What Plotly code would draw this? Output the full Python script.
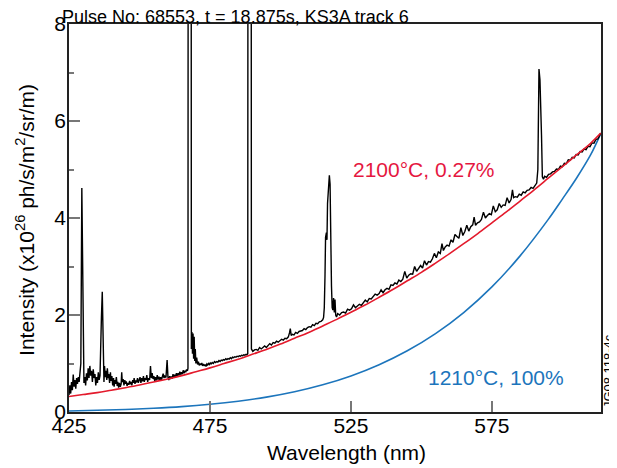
import plotly.graph_objects as go

# ---------------- data ----------------
title_text = "Pulse No: 68553, t = 18.875s, KS3A track 6"
x_ticks = [425, 475, 525, 575]
y_ticks = [0, 2, 4, 6, 8]

# measured spectrum, segment by segment: (wavelength nm, intensity 1e26)
spec_a = [(425.0,0.35),(425.3,0.55),(425.6,0.38),(425.9,0.62),(426.2,0.45),(426.5,0.77),(426.8,0.52),(427.1,0.66),(427.4,0.48),(427.7,0.70),(428.0,0.58),(428.3,0.72),(428.6,0.62),(428.9,0.80),
          (429.2,1.00),(429.55,4.62),(429.85,2.35),(430.05,2.15),(430.3,0.60),
          (430.6,0.72),(430.9,0.55),(431.2,0.80),(431.5,0.65),(431.8,0.90),(432.1,0.70),(432.4,0.95),(432.7,0.75),(433.0,0.85),(433.3,0.62),(433.6,0.88),(433.9,0.70),(434.2,0.78),(434.5,0.55),(434.8,0.72),(435.1,0.60),(435.4,0.82),(435.7,0.66),(436.0,0.75),
          (436.3,1.75),(436.5,1.95),(436.8,2.48),(437.15,0.85),
          (437.4,0.62),(437.6,0.95),(437.9,0.72),(438.1,0.85),(438.4,0.66),(438.6,0.90),(438.9,0.70),(439.1,0.78),(439.4,0.60),(439.7,0.82),(439.9,0.64),(440.2,0.74),(440.5,0.55),(440.8,0.70),(441.0,0.52),(441.3,0.66),(441.5,0.58),(441.8,0.72),(442.1,0.54),(442.3,0.62),(442.6,0.50),(442.9,0.60),(443.2,0.52),(443.5,0.58),(443.7,0.82),(443.9,0.62),(444.2,0.68),(444.5,0.55),(444.8,0.66),(445.0,0.58),(445.3,0.63),(445.6,0.54),(445.9,0.60),(446.2,0.56),(446.5,0.64),(446.8,0.57),(447.0,0.62),(447.3,0.55),(447.6,0.66),(447.9,0.60),(448.1,0.70),(448.4,0.58),(448.7,0.65),(449.0,0.61),(449.3,0.70),(449.6,0.60),(449.9,0.66),(450.2,0.72),(450.5,0.60),(450.8,0.70),(451.1,0.63),(451.4,0.74),(451.7,0.62),(452.0,0.70),(452.3,0.66),(452.6,0.76),(452.9,0.62),(453.2,0.70),
          (453.6,0.66),(453.9,0.95),(454.2,0.70),(454.5,0.80),(454.8,0.68),(455.1,0.74),(455.4,0.64),(455.7,0.72),(456.0,0.65),(456.3,0.76),(456.6,0.67),(456.9,0.73),(457.2,0.65),(457.5,0.72),(457.8,0.66),(458.1,0.73),(458.4,0.79),(458.7,0.70),(459.0,0.74),(459.4,0.71),(459.8,1.07),(460.1,0.72),(460.4,0.66),(460.7,0.74),(461.0,0.68),(461.3,0.73),(461.6,0.69),(461.9,0.78),(462.2,0.71),(462.5,0.77),(462.8,0.72),(463.1,0.80),(463.4,0.74),(463.7,0.80),(464.0,0.75),(464.3,0.83),(464.6,0.77),(464.9,0.82),(465.2,0.78),(465.5,0.86),(465.8,0.80),(466.1,0.85),(466.4,0.82),(466.7,0.88),(467.0,0.85)]
spec_b = [(467.2,0.90),(467.45,40.0),(468.15,40.0),(468.4,1.30),(468.6,1.65),(468.8,1.20),(469.0,1.62),(469.2,1.10),(469.4,1.55),(469.6,1.05),(469.8,1.30),
          (470.0,1.00),(470.3,1.12),(470.6,0.98),(470.9,1.04),(471.2,0.96),(471.5,1.00),(471.8,0.97),(472.1,1.01),(472.4,0.95),(472.7,0.99),(473.0,0.96),(473.3,0.97),(473.6,0.94),(473.9,0.99),(474.2,0.97),(474.5,1.00),(474.8,0.98),(475.1,1.01),(475.4,0.99),(475.8,1.02),(476.2,1.00),(476.6,1.04),(477.0,1.02),(477.4,1.04),(477.8,1.03),(478.2,1.06),(478.6,1.04),(479.0,1.07),(479.4,1.06),(479.8,1.08),(480.2,1.07),(480.6,1.10),(481.0,1.08),(481.4,1.10),(481.8,1.09),(482.2,1.12),(482.6,1.10),(483.0,1.13),(483.4,1.12),(483.8,1.14),(484.2,1.13),(484.6,1.15),(485.0,1.14),(485.4,1.16),(485.8,1.15),(486.2,1.17),(486.6,1.16),(487.0,1.18),(487.4,1.17),(487.8,1.19),(488.1,1.18)]
spec_c = [(488.4,1.20),(488.7,40.0),(489.4,40.0),(489.7,1.30),(490.2,1.25),(490.8,1.28),(491.4,1.29),(492.0,1.27),(492.6,1.33),(493.2,1.30),(493.8,1.33),(494.4,1.36),(495.0,1.33),(495.6,1.38),(496.2,1.41),(496.8,1.38),(497.4,1.43),(498.0,1.42),(498.6,1.46),(499.2,1.44),(499.8,1.47),(500.4,1.50),(501.0,1.48),(501.6,1.52),(502.2,1.51),(502.8,1.55),(503.2,1.63),(503.5,1.72),(503.8,1.58),(504.2,1.60),(504.8,1.59),(505.4,1.64),(506.0,1.62),(506.6,1.66),(507.2,1.67),(507.8,1.68),(508.4,1.72),(509.0,1.70),(509.6,1.74),(510.2,1.76),(510.8,1.75),(511.4,1.80),(512.0,1.78),(512.6,1.83),(513.2,1.82),(513.8,1.86),(514.4,1.87),(515.0,1.90)]
spec_d = [(515.3,1.95),(515.55,2.15),(515.8,2.80),(516.0,3.60),(516.3,3.70),(516.5,3.55),(516.7,4.30),(517.1,4.60),(517.35,4.88),(517.6,4.70),(517.85,3.30),(518.1,2.60),(518.35,2.15),(518.6,2.10),(518.85,2.35),(519.1,2.05),(519.35,2.32),(519.6,2.00),(519.9,1.96)]
spec_e = [(520.3,2.03),(521.0,2.00),(521.7,2.05),(522.4,2.06),(523.1,2.04),(523.8,2.12),(524.5,2.10),(525.2,2.13),(525.9,2.21),(526.6,2.15),(527.3,2.19),(528.0,2.22),(528.7,2.20),(529.4,2.27),(530.1,2.31),(530.8,2.27),(531.5,2.34),(532.2,2.33),(532.9,2.38),(533.6,2.43),(534.3,2.41),(535.0,2.44),(535.7,2.52),(536.4,2.46),(537.1,2.52),(537.8,2.55),(538.5,2.53),(539.2,2.62),(539.9,2.61),(540.6,2.66),(541.3,2.64),(542.0,2.72),(542.7,2.69),(543.4,2.74),(544.1,2.90),(544.8,2.76),(545.5,2.82),(546.2,2.85),(546.9,2.84),(547.6,3.00),(548.3,2.90),(549.0,2.95),(549.7,3.02),(550.4,2.97),(551.1,3.12),(551.8,3.03),(552.5,3.10),(553.2,3.09),(553.9,3.16),(554.6,3.27),(555.3,3.18),(556.0,3.30),(556.7,3.27),(557.3,3.47),(557.8,3.33),(558.4,3.40),(559.1,3.44),(559.8,3.42),(560.5,3.55),(561.2,3.50),(561.9,3.66),(562.6,3.62),(563.3,3.58),(564.0,3.80),(564.7,3.64),(565.4,3.72),(566.1,3.85),(566.8,3.73),(567.5,3.82),(568.2,3.86),(568.7,4.02),(569.2,3.85),(569.9,3.90),(570.6,3.92),(571.3,3.97),(572.0,4.12),(572.7,4.00),(573.4,4.05),(574.1,4.09),(574.8,4.07),(575.5,4.25),(576.2,4.13),(576.9,4.17),(577.6,4.30),(578.3,4.22),(579.0,4.27),(579.7,4.26),(580.4,4.42),(581.1,4.31),(581.8,4.38),(582.3,4.58),(582.7,4.42),(583.3,4.44),(584.0,4.43),(584.7,4.49),(585.4,4.47),(586.1,4.54),(586.8,4.52),(587.5,4.57),(588.2,4.58),(588.9,4.63),(589.6,4.61),(590.5,4.70)]
spec_f = [(590.9,4.72),(591.3,5.00),(591.5,6.50),(591.7,7.07),(592.05,6.85),(592.3,5.85),(592.6,5.70),(592.9,4.85),(593.3,4.80)]
spec_g = [(593.7,4.86),(594.4,4.84),(595.1,4.90),(595.8,4.91),(596.5,4.95),(597.2,4.96),(597.9,5.01),(598.6,5.00),(599.3,5.07),(600.0,5.06),(600.7,5.13),(601.4,5.12),(602.1,5.20),(602.8,5.19),(603.5,5.25),(604.2,5.24),(604.9,5.31),(605.6,5.30),(606.3,5.37),(607.0,5.36),(607.7,5.42),(608.4,5.41),(609.1,5.48),(609.8,5.47),(610.5,5.55),(611.2,5.54),(611.9,5.62),(612.6,5.63),(613.3,5.71),(613.6,5.75)]

# 2100 C, 0.27 % emissivity curve
red_wl = [425,430,435,440,445,450,455,460,465,470,475,480,485,490,495,500,505,510,515,520,525,530,535,540,545,550,555,560,565,570,575,580,585,590,595,600,605,610,613.6]
red_val = [0.32,0.36,0.40,0.45,0.50,0.555,0.62,0.68,0.75,0.83,0.91,1.00,1.09,1.19,1.29,1.40,1.52,1.64,1.775,1.91,2.055,2.205,2.365,2.53,2.705,2.88,3.07,3.265,3.47,3.68,3.90,4.12,4.35,4.58,4.82,5.06,5.30,5.54,5.75]

# 1210 C, 100 % emissivity curve
blue_wl = [425,435,445,455,465,475,485,495,505,515,525,535,545,555,565,575,585,595,600,605,610,613.6]
blue_val = [0.022,0.035,0.052,0.077,0.111,0.159,0.223,0.307,0.418,0.561,0.744,0.975,1.262,1.617,2.051,2.579,3.219,3.972,4.39,4.82,5.30,5.74]

spectrum = spec_a + spec_b + spec_c + spec_d + spec_e + spec_f + spec_g
spec_wl = [p[0] for p in spectrum]
spec_int = [p[1] for p in spectrum]

FONT = "Liberation Sans, Arial, Helvetica, sans-serif"
RED = "#e31a2c"
BLUE = "#1c75bc"

fig = go.Figure()
fig.add_trace(go.Scatter(x=blue_wl, y=blue_val, mode="lines", line=dict(color=BLUE, width=1.6, shape="spline"), showlegend=False))
fig.add_trace(go.Scatter(x=spec_wl, y=spec_int, mode="lines", line=dict(color="black", width=1.4), showlegend=False))
fig.add_trace(go.Scatter(x=red_wl, y=red_val, mode="lines", line=dict(color=RED, width=1.6, shape="spline"), showlegend=False))

# the page adds an 8 px body margin, so the figure is drawn 8 px smaller and offset
fig.update_layout(
    width=609, height=460,
    margin=dict(l=61, r=16, t=16, b=56, autoexpand=False),
    paper_bgcolor="white", plot_bgcolor="white",
    font=dict(family=FONT, size=21, color="black"),
    showlegend=False,
)
fig.update_xaxes(
    range=[425, 613.7], tickvals=x_ticks, ticks="inside", ticklen=11, tickwidth=1.5, tickcolor="#777777",
    showline=True, linecolor="#222222", linewidth=1.5, mirror=True, showgrid=False, zeroline=False,
    tickfont=dict(size=21), automargin=False, ticklabelstandoff=-6,
)
fig.update_yaxes(
    range=[0, 8], tickvals=y_ticks, ticks="inside", ticklen=11, tickwidth=1.5, tickcolor="#777777",
    minor=dict(dtick=1, ticks="inside", ticklen=5, tickcolor="#777777", tickwidth=1.5),
    showline=True, linecolor="#222222", linewidth=1.5, mirror=True, showgrid=False, zeroline=False,
    tickfont=dict(size=21), automargin=False, ticklabelstandoff=-3,
)

# axis titles
fig.add_annotation(text="Wavelength (nm)", xref="paper", yref="paper", x=0.5207, y=0, xanchor="center", yanchor="middle",
                   yshift=-40, showarrow=False, font=dict(size=21, color="black"))
fig.add_annotation(text="Intensity (x10<sup>26</sup> ph/s/m<sup>2</sup>/sr/m)", xref="paper", yref="paper", x=0, y=0.495,
                   xanchor="center", yanchor="middle", xshift=-44, textangle=-90, showarrow=False,
                   font=dict(size=21, color="black"))

fig.add_annotation(text=title_text, xref="paper", yref="paper", x=-0.015, y=1.0, xanchor="left", yanchor="bottom",
                   yshift=-4, borderpad=0, showarrow=False, font=dict(size=18, color="black"))
fig.add_annotation(text="2100°C, 0.27%", x=551, y=5.0, xref="x", yref="y", showarrow=False,
                   font=dict(size=21, color="#e5173f"))
fig.add_annotation(text="1210°C, 100%", x=576.5, y=0.71, xref="x", yref="y", showarrow=False,
                   font=dict(size=21, color=BLUE))
fig.add_annotation(text="JG08.118-4c", xref="paper", yref="paper", x=1.0155, y=0.106, xanchor="center", yanchor="middle",
                   textangle=-90, borderpad=0, showarrow=False, font=dict(size=13, color="black"))

fig.write_html("out.html")
